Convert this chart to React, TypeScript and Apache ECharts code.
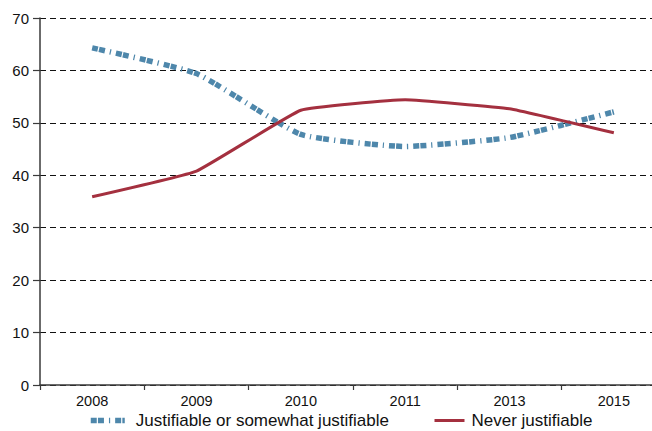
import React, { useEffect, useRef } from "react";
import * as echarts from "echarts";

const years = ["2008", "2009", "2010", "2011", "2013", "2015"];
const justifiable = [64.3, 59.4, 47.8, 45.5, 47.2, 52.1];
const neverJustifiable = [35.9, 40.8, 52.4, 54.4, 52.7, 48.1];
const yTicks = { min: 0, max: 70, interval: 10 };

const FONT = "'Liberation Sans', Arial, Helvetica, sans-serif";
const BLUE = "#4e87ab";
const RED = "#a4303f";
const BLUE_DASH = [6, 1.2, 6, 5, 1.2, 5];

export default function App() {
  const ref = useRef<HTMLDivElement>(null);
  useEffect(() => {
    if (!ref.current) return;
    const chart = echarts.init(ref.current, null, { renderer: "svg" });
    chart.setOption({
      animation: false,
      backgroundColor: "#ffffff",
      textStyle: { fontFamily: FONT },
      grid: { left: 40, top: 18, width: 626, bottom: 46, containLabel: false, outerBoundsMode: "none" },
      xAxis: {
        type: "category",
        data: years,
        boundaryGap: true,
        axisLine: { show: true, lineStyle: { color: "#3a3a3a", width: 1.5 } },
        axisTick: { show: true, inside: false, length: 5, alignWithLabel: false, lineStyle: { color: "#3a3a3a", width: 1.2 } },
        axisLabel: { color: "#111", fontSize: 14.5, fontFamily: FONT, margin: 8 },
        splitLine: { show: false },
      },
      yAxis: {
        type: "value",
        min: yTicks.min,
        max: yTicks.max,
        interval: yTicks.interval,
        axisLine: { show: true, lineStyle: { color: "#3a3a3a", width: 1.5 } },
        axisTick: { show: true, inside: false, length: 7, lineStyle: { color: "#3a3a3a", width: 1.2 } },
        axisLabel: { color: "#111", fontSize: 15, fontFamily: FONT, margin: 11 },
        splitLine: { show: true, lineStyle: { color: "#111", width: 1, type: [6, 4] } },
      },
      legend: [
        {
          data: [
            {
              name: "Justifiable or somewhat justifiable",
              lineStyle: { color: BLUE, width: 5.5, type: BLUE_DASH, cap: "butt" },
              itemStyle: { opacity: 0 },
            },
          ],
          left: 88,
          top: 412,
          itemWidth: 34,
          itemHeight: 14,
          padding: 0,
          textStyle: { fontSize: 17, color: "#111", fontFamily: FONT, padding: [0, 0, 0, 6] },
        },
        {
          data: [
            {
              name: "Never justifiable",
              lineStyle: { color: RED, width: 3, type: "solid" },
              itemStyle: { opacity: 0 },
            },
          ],
          left: 433,
          top: 412,
          itemWidth: 30,
          itemHeight: 14,
          padding: 0,
          textStyle: { fontSize: 17, color: "#111", fontFamily: FONT, padding: [0, 0, 0, 2] },
        },
      ],
      series: [
        {
          name: "Justifiable or somewhat justifiable",
          type: "line",
          data: justifiable,
          symbol: "none",
          smooth: 0.15,
          lineStyle: { color: BLUE, width: 5.5, type: BLUE_DASH, cap: "butt" },
          itemStyle: { color: BLUE },
          z: 3,
        },
        {
          name: "Never justifiable",
          type: "line",
          data: neverJustifiable,
          symbol: "none",
          smooth: 0.1,
          lineStyle: { color: RED, width: 3 },
          itemStyle: { color: RED },
          z: 4,
        },
      ],
    });
    return () => chart.dispose();
  }, []);
  return (
    <div
      ref={ref}
      style={{ position: "fixed", left: 0, top: 0, width: 652, height: 431, background: "#fff" }}
    />
  );
}
